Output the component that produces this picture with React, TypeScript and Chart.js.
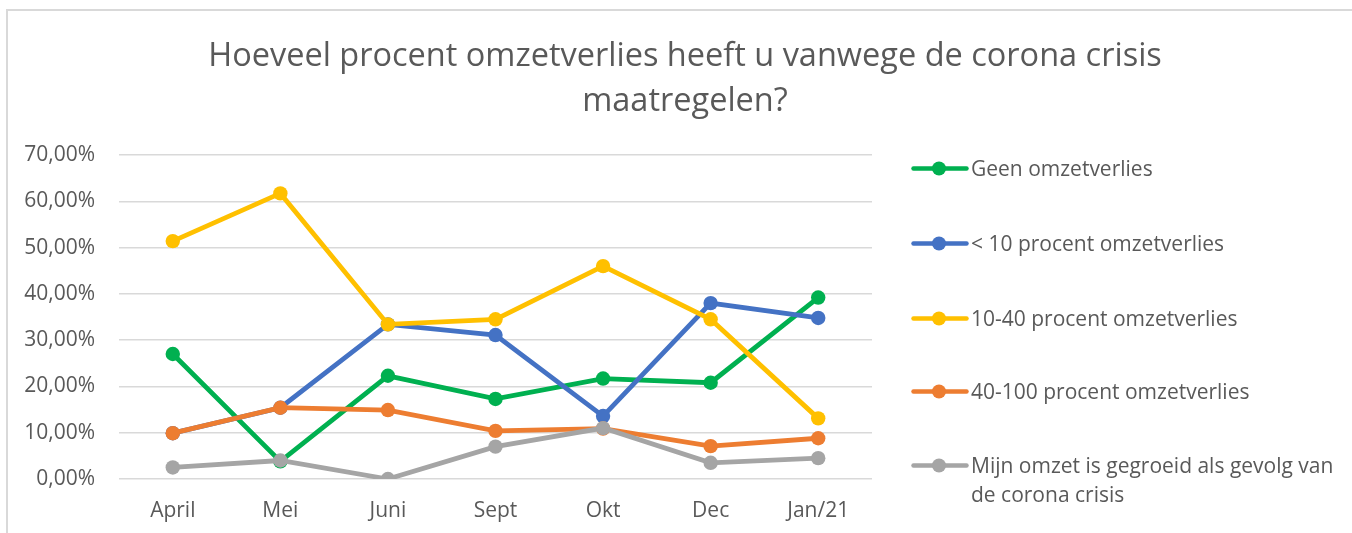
import React, { useEffect, useRef } from "react";
import { Chart, registerables } from "chart.js";

Chart.register(...registerables);

const categories = ["April", "Mei", "Juni", "Sept", "Okt", "Dec", "Jan/21"];
const geenOmzetverlies = [27.0, 3.8, 22.3, 17.3, 21.7, 20.8, 39.2];
const minder10 = [9.9, 15.4, 33.4, 31.1, 13.6, 38.0, 34.8];
const tien40 = [51.4, 61.7, 33.4, 34.5, 46.0, 34.5, 13.1];
const veertig100 = [9.9, 15.4, 14.9, 10.4, 10.9, 7.1, 8.8];
const gegroeid = [2.5, 4.0, 0.0, 7.0, 11.0, 3.5, 4.5];

const seriesNames = [
  "Geen omzetverlies",
  "< 10 procent omzetverlies",
  "10-40 procent omzetverlies",
  "40-100 procent omzetverlies",
  "Mijn omzet is gegroeid als gevolg van de corona crisis",
];
const seriesColors = ["#00b050", "#4472c4", "#ffc000", "#ed7d31", "#a5a5a5"];
const seriesData = [geenOmzetverlies, minder10, tien40, veertig100, gegroeid];

const titleLines = [
  "Hoeveel procent omzetverlies heeft u vanwege de corona crisis",
  "maatregelen?",
];

const FONT = "'Open Sans', 'DejaVu Sans', sans-serif";
const TEXT = "#595959";

export default function App() {
  const ref = useRef<HTMLCanvasElement | null>(null);

  useEffect(() => {
    if (!ref.current) return;
    const chart = new Chart(ref.current, {
      type: "line",
      data: {
        labels: categories,
        datasets: seriesData.map((d, i) => ({
          label: seriesNames[i],
          data: d,
          yAxisID: "y",
          borderColor: seriesColors[i],
          backgroundColor: seriesColors[i],
          borderWidth: 4.8,
          pointRadius: 7.2,
          pointHoverRadius: 7.2,
          pointBorderWidth: 0,
          tension: 0,
          order: seriesData.length - i,
        })),
      },
      options: {
        animation: false,
        responsive: false,
        maintainAspectRatio: false,
        layout: { padding: { left: 10, right: 0, top: 0, bottom: 0 } },
        plugins: {
          legend: { display: false },
          tooltip: { enabled: false },
          title: {
            display: true,
            text: titleLines,
            color: TEXT,
            font: { family: FONT, size: 32.5, weight: "normal", lineHeight: 45 / 32.5 },
            padding: { top: 23.5, bottom: 30.5 },
            align: "center",
            fullSize: true,
          },
        },
        scales: {
          x: {
            offset: true,
            grid: { display: false, drawTicks: false },
            border: { display: false },
            ticks: {
              color: TEXT,
              font: { family: FONT, size: 21 },
              padding: 19,
              maxRotation: 0,
            },
            afterFit: (s: any) => {
              s.height = 54;
            },
          },
          y: {
            position: "left",
            min: 0,
            max: 70,
            grid: { color: "#d9d9d9", lineWidth: 1.5, drawTicks: false },
            border: { display: false },
            ticks: {
              stepSize: 10,
              color: TEXT,
              font: { family: FONT, size: 21 },
              padding: 24,
              callback: (v: any) => Number(v).toFixed(2).replace(".", ",") + "%",
            },
            afterFit: (s: any) => {
              s.width = 101;
            },
          },
          legendSpace: {
            type: "linear",
            position: "right",
            display: true,
            min: 0,
            max: 1,
            grid: { display: false, drawTicks: false },
            border: { display: false },
            ticks: { display: false },
            afterFit: (s: any) => {
              s.width = 480;
            },
          },
        },
      },
    });
    return () => chart.destroy();
  }, []);

  const legendTops = [168, 243, 318, 391, 465];

  return (
    <div
      style={{
        position: "fixed",
        left: 6,
        top: 9,
        right: 0,
        bottom: 0,
        borderTop: "2px solid #d9d9d9",
        borderLeft: "2px solid #d9d9d9",
        background: "#fff",
        overflow: "hidden",
      }}
    >
      <canvas ref={ref} width={1344} height={522} style={{ display: "block", width: 1344, height: 522 }} />
      {seriesNames.map((name, i) => (
        <div
          key={name}
          style={{
            position: "absolute",
            left: 911 - 8,
            top: legendTops[i] - 11 - 14.5,
            display: "flex",
            alignItems: "flex-start",
            fontFamily: FONT,
            fontSize: 21,
            lineHeight: "29px",
            color: TEXT,
          }}
        >
          <svg width={60} height={29} style={{ flex: "none" }}>
            <line x1={2.5} y1={14.5} x2={55.5} y2={14.5} stroke={seriesColors[i]} strokeWidth={4.5} strokeLinecap="round" />
            <circle cx={28} cy={14.5} r={7} fill={seriesColors[i]} />
          </svg>
          <div style={{ width: 380, whiteSpace: "normal" }}>{name}</div>
        </div>
      ))}
    </div>
  );
}
